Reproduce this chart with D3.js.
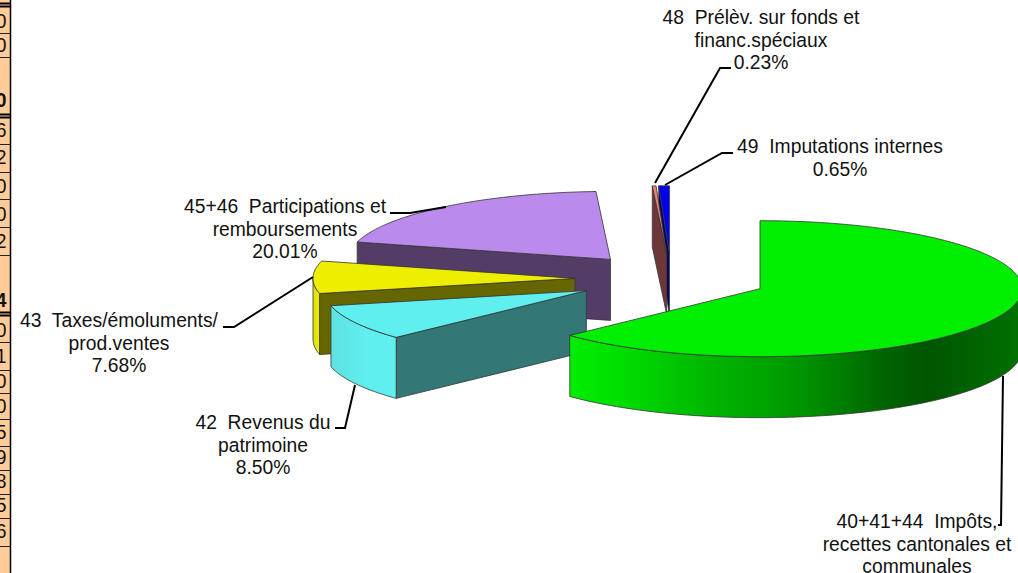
<!DOCTYPE html>
<html>
<head>
<meta charset="utf-8">
<script src="https://cdn.jsdelivr.net/npm/d3@7"></script>
<style>
  html, body { margin: 0; padding: 0; background: #fff; overflow: hidden; }
  svg { display: block; }
  text { font-family: "Liberation Sans", Arial, sans-serif; white-space: pre; fill: #111; }
</style>
</head>
<body>
<div id="chart"></div>
<script>
// chart data
var categories = [
  ["40+41+44  Impôts,", "recettes cantonales et", "communales"],
  ["42  Revenus du", "patrimoine"],
  ["43  Taxes/émoluments/", "prod.ventes"],
  ["45+46  Participations et", "remboursements"],
  ["48  Prélèv. sur fonds et", "financ.spéciaux"],
  ["49  Imputations internes"]
];
var shares = [62.93, 8.5, 7.68, 20.01, 0.23, 0.65];

// what is left of the table next to the chart (only the last digit shows)
var tableDigits = ["0", "0", "0", "6", "2", "0", "0", "2", "4", "0", "1", "0", "0", "5", "9", "8", "5", "6"];
var tableBold = [false, false, true, false, false, false, false, false, true, false, false, false, false, false, false, false, false, false];

// layout and colours, kept apart from the values
var width = 1018, height = 573;
var cx = 671.4, cy = 278.8, rx = 262, ry = 68, depth = 61, explode = 0.368;
var topColors = ["#00ee00", "#60efef", "#eeee00", "#ba8aec", "#f08070", "#0000ee"];
var faceColors = ["#007700", "#337777", "#666600", "#533d66", "#6e3737", "#000066"];
var drawOrder = [5, 4, 3, 2, 1, 0];
var labelPos = [[917, 528], [263, 429], [119, 327], [285, 213], [761, 24], [840, 153]];
var showPct = [false, true, true, true, true, true];
var leaders = [
  [[1003, 376], [1001, 525], [998, 525]],
  [[335, 428], [345, 428], [355, 385]],
  [[223, 327], [234, 327], [313, 277]],
  [[390, 213], [410, 213], [446, 207]],
  [[655, 183], [720, 68], [731, 68]],
  [[665, 185], [722, 153], [733, 153]]
];
var rowBaselines = [28, 52, 107, 137, 164, 193, 221, 248, 307, 337, 363, 388, 413, 439, 464, 488, 512, 538];
var rowLines = [33, 57, 144, 172, 199, 227, 255, 342, 370, 393, 419, 446, 470, 494, 518, 546];
var doubleLines = [3, 114, 312];

var svg = d3.select("#chart").append("svg").attr("width", width).attr("height", height);
var defs = svg.append("defs");

// side gradients run along x, like the office 3d pie
function sideGradient(id, x0, x1, stops) {
  var g = defs.append("linearGradient").attr("id", id)
    .attr("gradientUnits", "userSpaceOnUse")
    .attr("x1", x0).attr("x2", x1).attr("y1", 0).attr("y2", 0);
  stops.forEach(function (s) {
    g.append("stop").attr("offset", s[0]).attr("stop-color", s[1]);
  });
  return "url(#" + id + ")";
}
var sideFills = [
  sideGradient("g0", 570, 1018, [[0, "#00ee00"], [0.1, "#00e000"], [0.3, "#00b800"], [0.5, "#009800"], [0.72, "#006000"], [0.8, "#005500"], [1, "#007000"]]),
  sideGradient("g1", 330, 396, [[0, "#5ee2e2"], [0.6, "#60efef"], [1, "#60eeee"]]),
  sideGradient("g2", 313, 320, [[0, "#dddd00"], [1, "#eeee00"]]),
  faceColors[3], faceColors[4], faceColors[5]
];

// left table stub
svg.append("rect").attr("x", 0).attr("y", 0).attr("width", 10).attr("height", height).attr("fill", "#ffcc99");
svg.selectAll(".row").data(rowLines).enter().append("line")
  .attr("x1", 0).attr("x2", 10)
  .attr("y1", function (d) { return d + 0.5; })
  .attr("y2", function (d) { return d + 0.5; })
  .attr("stroke", "#222");
svg.selectAll(".dbl").data(doubleLines).enter().append("path")
  .attr("d", function (d) { return "M0," + (d + 0.5) + "H10M0," + (d + 3.5) + "H10"; })
  .attr("stroke", "#000").attr("stroke-width", 2);
svg.selectAll(".digit").data(tableDigits).enter().append("text")
  .attr("x", 6.5)
  .attr("y", function (d, i) { return rowBaselines[i]; })
  .attr("text-anchor", "end")
  .style("font-size", "19.3px")
  .style("font-weight", function (d, i) { return tableBold[i] ? "bold" : "normal"; })
  .text(function (d) { return d; });
svg.append("line").attr("x1", 10.5).attr("x2", 10.5).attr("y1", 0).attr("y2", height)
  .attr("stroke", "#000").attr("stroke-width", 1.5);

// slices, clockwise from 12 o'clock
var slices = d3.pie().sort(null).value(function (d) { return d; })(shares);
var xs = d3.scaleLinear().domain([-1, 1]).range([-rx, rx]);
var ys = d3.scaleLinear().domain([-1, 1]).range([-ry, ry]);
var line = d3.line();

function center(s) {
  var mid = (s.startAngle + s.endAngle) / 2;
  return [cx + xs(Math.sin(mid) * explode), cy - ys(Math.cos(mid) * explode)];
}
function rim(c, a0, a1) {
  var n = Math.max(2, Math.ceil((a1 - a0) * 60));
  return d3.range(n + 1).map(function (i) {
    var a = a0 + (a1 - a0) * i / n;
    return [c[0] + xs(Math.sin(a)), c[1] - ys(Math.cos(a))];
  });
}
function drop(pts) {
  return pts.map(function (p) { return [p[0], p[1] + depth]; });
}
function closed(pts) {
  return line(pts) + "Z";
}

var pieG = svg.append("g").attr("stroke", "#333").attr("stroke-width", 0.8).attr("stroke-linejoin", "round");
drawOrder.forEach(function (i) {
  var s = slices[i], c = center(s), g = pieG.append("g");
  // radial face at the start edge shows for slices on the left half
  if (Math.sin(s.startAngle) < 0) {
    var p0 = rim(c, s.startAngle, s.startAngle)[0];
    g.append("path").attr("d", closed([p0, c, [c[0], c[1] + depth], [p0[0], p0[1] + depth]]))
      .attr("fill", faceColors[i]);
  }
  // outer wall, only the part that faces the viewer
  var a0 = Math.max(s.startAngle, Math.PI / 2), a1 = Math.min(s.endAngle, 3 * Math.PI / 2);
  if (a1 > a0) {
    var edge = rim(c, a0, a1);
    g.append("path").attr("d", closed(edge.concat(drop(edge).reverse()))).attr("fill", sideFills[i]);
  }
  g.append("path").attr("d", closed([c].concat(rim(c, s.startAngle, s.endAngle)))).attr("fill", topColors[i]);
});

// leader lines
svg.selectAll(".leader").data(leaders).enter().append("path")
  .attr("d", function (d) { return line(d); })
  .attr("fill", "none").attr("stroke", "#000").attr("stroke-width", 2);

// labels
var pct = d3.format(".2f");
categories.forEach(function (lines, i) {
  var rows = showPct[i] ? lines.concat(pct(shares[i]) + "%") : lines;
  var t = svg.append("text").attr("text-anchor", "middle").style("font-size", "19.3px");
  rows.forEach(function (r, j) {
    t.append("tspan").attr("x", labelPos[i][0]).attr("y", labelPos[i][1] + j * 22.6).text(r);
  });
});
</script>
</body>
</html>
